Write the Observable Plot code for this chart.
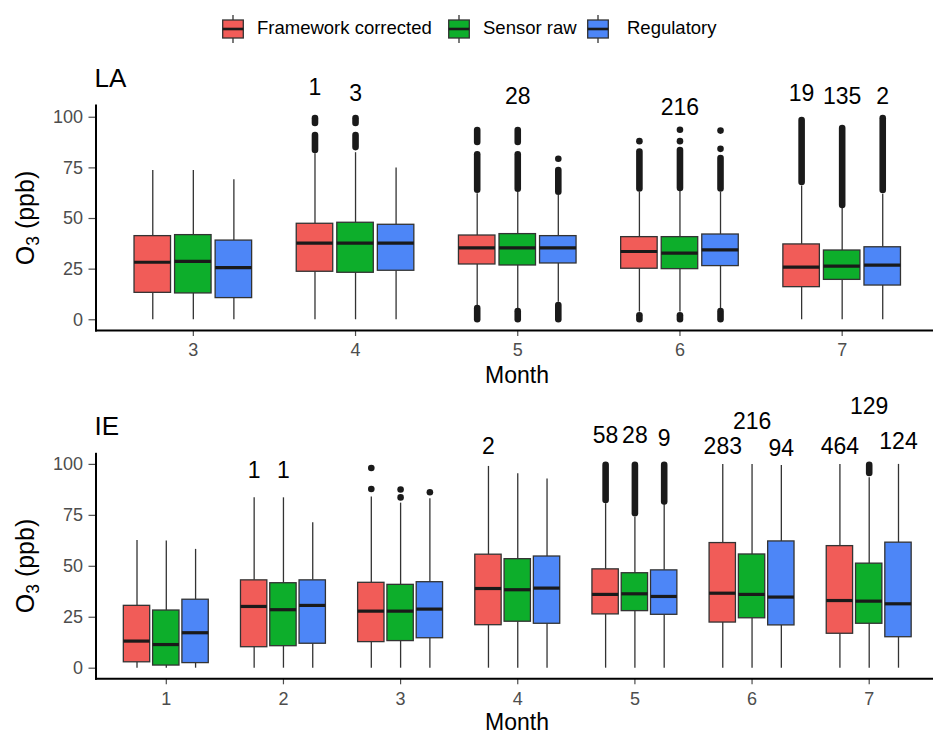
<!DOCTYPE html>
<html><head><meta charset="utf-8">
<script src="https://cdn.jsdelivr.net/npm/d3@7"></script>
<script src="https://cdn.jsdelivr.net/npm/@observablehq/plot@0.6"></script>
<style>
html,body{margin:0;padding:0;overflow:hidden;background:#fff;width:933px;height:733px;}
body{position:relative;font-family:"Liberation Sans",Arial,Helvetica,sans-serif;color:#000;}
.abs{position:absolute;white-space:nowrap;line-height:1;}
.svgwrap{position:absolute;left:0;}
</style></head><body>
<script>
// ---------- data ----------
const seriesNames = ["Framework corrected", "Sensor raw", "Regulatory"];
const seriesColors = ["#F15C58", "#0DAE2B", "#4D86F7"];

// LA: one entry per box (month-major, series in seriesNames order)
const laMonths = [3, 4, 5, 6, 7];
const laMonth  = [3,3,3, 4,4,4, 5,5,5, 6,6,6, 7,7,7];
const laLow    = [0,0,0, 0,0,0, 7.1,5.6,8.7, 3.8,3.8,5.4, 0,0,0];
const laQ1     = [13.3,13.0,10.7, 23.7,23.2,24.2, 27.3,26.8,27.8, 25.2,25.0,26.5, 16.1,19.7,16.9];
const laMedian = [28.4,28.8,25.7, 37.8,37.8,37.8, 35.5,35.5,35.5, 33.7,32.9,34.5, 26.0,26.5,27.0];
const laQ3     = [41.3,41.8,39.1, 47.4,47.9,46.9, 41.6,42.3,41.3, 40.8,40.8,42.1, 37.2,34.2,35.8];
const laHigh   = [73.7,73.7,69.1, 82,82.5,75.0, 62.2,63,61.4, 63,63.5,63, 66,55,62];
// LA dense outlier runs
const laRunMonth  = [4,4,4,4, 5,5,5,5,5, 5,5,5, 6,6,6, 6,6,6, 7,7,7];
const laRunSeries = [0,0,1,1, 0,0,1,1,2, 0,1,2, 0,1,2, 0,1,2, 0,1,2];
const laRunLo     = [83.6,96.9,85,96.9, 64,87.5,64.5,87.5,63, 0,0,0, 64.6,64.8,64.6, 0,0,0, 67.8,56.4,63.8];
const laRunHi     = [91,99.3,91,99.3, 81.5,93.4,81.5,93.4,73.7, 5.5,4,7, 82.8,83.6,79.6, 2,2,4, 98.4,94.4,99.3];
// LA single outliers
const laDotMonth  = [5, 6, 6, 6, 6, 6];
const laDotSeries = [2, 0, 1, 1, 2, 2];
const laDotValue  = [79.5, 88.2, 88.2, 93.8, 84.4, 93.4];
// LA count labels
const laLabMonth  = [4, 4, 5, 6, 7, 7, 7];
const laLabSeries = [0, 1, 1, 1, 0, 1, 2];
const laLabText   = ["1", "3", "28", "216", "19", "135", "2"];
const laLabY      = [114.5, 111.5, 110.2, 104.9, 111.8, 110.2, 110.2];

// IE
const ieMonths = [1, 2, 3, 4, 5, 6, 7];
const ieMonth  = [1,1,1, 2,2,2, 3,3,3, 4,4,4, 5,5,5, 6,6,6, 7,7,7];
const ieLow    = [0,0,0, 0,0,0, 0,0,0, 0,0,0, 0,0,0, 0,0,0, 0,0,0];
const ieQ1     = [2.9,1.3,2.5, 10.3,10.8,12.0, 12.8,13.3,14.7, 21.1,22.8,21.8, 26.4,28.0,26.2, 22.4,24.5,21.0, 16.9,21.8,15.2];
const ieMedian = [13.3,11.6,17.4, 30.3,28.7,30.8, 28.0,28.0,29.0, 39.1,38.5,39.3, 36.2,36.5,35.2, 36.8,36.2,34.9, 33.2,32.9,31.6];
const ieQ3     = [30.6,28.3,33.6, 43.1,41.7,43.1, 41.9,40.9,42.2, 55.7,53.5,54.8, 48.5,46.6,48.0, 61.4,55.8,62.2, 59.9,51.3,61.6];
const ieHigh   = [62.7,62.4,58.3, 83.6,83.6,71.4, 84.0,81.0,83.1, 99.0,95.4,92.8, 80.7,74.1,79.9, 100,100,99.5, 100,93.5,100];
const ieRunMonth  = [5, 5, 5, 7];
const ieRunSeries = [0, 1, 2, 1];
const ieRunLo     = [82.3, 75.8, 81.5, 95.5];
const ieRunHi     = [99.5, 99.5, 99.5, 99.5];
const ieDotMonth  = [3, 3, 3, 3, 3];
const ieDotSeries = [0, 0, 1, 1, 2];
const ieDotValue  = [98.2, 87.9, 87.7, 83.8, 86.3];
const ieLabMonth  = [2, 2, 4, 5, 5, 5, 6, 6, 6, 7, 7, 7];
const ieLabSeries = [0, 1, 0, 0, 1, 2, 0, 1, 2, 0, 1, 2];
const ieLabText   = ["1", "1", "2", "58", "28", "9", "283", "216", "94", "464", "129", "124"];
const ieLabY      = [97.1, 97.1, 108.5, 114.2, 114.2, 112.6, 108.8, 120.8, 107.7, 108.8, 128.5, 111];

const yTicks = [0, 25, 50, 75, 100];

// ---------- tables ----------
const key = (m, s) => m + "|" + s;
function boxes(month, low, q1, med, q3, high) {
  return month.map((m, i) => ({key: key(m, seriesNames[i % 3]), series: seriesNames[i % 3], low: low[i], q1: q1[i], med: med[i], q3: q3[i], high: high[i]}));
}
function runs(month, s, lo, hi) {
  return month.map((m, i) => ({key: key(m, seriesNames[s[i]]), lo: lo[i], hi: hi[i]}));
}
function dots(month, s, v) {
  return month.map((m, i) => ({key: key(m, seriesNames[s[i]]), value: v[i]}));
}
function labels(month, s, t, y) {
  return month.map((m, i) => ({key: key(m, seriesNames[s[i]]), text: t[i], y: y[i]}));
}
// band domain: month groups of three series, one empty slot between groups (dodged layout)
function groupedDomain(months) {
  const d = [];
  months.forEach((m, i) => {
    if (i > 0) d.push("gap" + i);
    seriesNames.forEach(s => d.push(key(m, s)));
  });
  return d;
}

function panel(o) {
  return Plot.plot({
    width: 939, height: o.height,
    marginLeft: 95.5, marginRight: 0, marginTop: o.marginTop, marginBottom: o.marginBottom,
    style: {background: "transparent", overflow: "visible", maxWidth: "none", fontFamily: "'Liberation Sans', Arial, sans-serif"},
    x: {type: "band", domain: groupedDomain(o.months), paddingInner: 0.1, paddingOuter: 0.95, round: false, axis: null},
    y: {domain: o.yDomain, axis: null},
    color: {domain: seriesNames, range: seriesColors},
    marks: [
      Plot.axisY({ticks: yTicks, tickSize: 7, tickPadding: 6, fontSize: 18, label: null, color: "#4d4d4d", strokeWidth: 1.2}),
      Plot.axisX({anchor: "bottom", ticks: o.months.map(m => key(m, seriesNames[1])), tickFormat: k => k.split("|")[0],
                  tickSize: 6, tickPadding: 7, fontSize: 18, label: null, color: "#4d4d4d", strokeWidth: 1.2}),
      Plot.frame({anchor: "left", stroke: "#000", strokeWidth: 2}),
      Plot.frame({anchor: "bottom", stroke: "#000", strokeWidth: 2}),
      Plot.ruleX(o.boxes, {x: "key", y1: "low", y2: "q1", stroke: "#333", strokeWidth: 1.3}),
      Plot.ruleX(o.boxes, {x: "key", y1: "q3", y2: "high", stroke: "#333", strokeWidth: 1.3}),
      Plot.ruleX(o.runs, {x: "key", y1: "lo", y2: "hi", stroke: "#1a1a1a", strokeWidth: 6.6, strokeLinecap: "round"}),
      Plot.barY(o.boxes, {x: "key", y1: "q1", y2: "q3", fill: "series", stroke: "#333", strokeWidth: 1.3}),
      Plot.tickY(o.boxes, {x: "key", y: "med", stroke: "#1a1a1a", strokeWidth: 3.2}),
      Plot.dot(o.dots, {x: "key", y: "value", r: 3.3, fill: "#1a1a1a", stroke: null}),
      Plot.text(o.labels, {x: "key", y: "y", text: "text", fontSize: 23, fill: "#000"})
    ]
  });
}

function place(el, top) {
  const w = document.createElement("div");
  w.className = "svgwrap";
  w.style.top = top + "px";
  w.appendChild(el);
  document.body.appendChild(w);
}
function addText(html, css) {
  const d = document.createElement("div");
  d.className = "abs";
  d.innerHTML = html;
  Object.assign(d.style, css);
  document.body.appendChild(d);
  return d;
}

// LA panel: plot area 105..330 px
place(panel({
  months: laMonths, height: 350, marginTop: 65, marginBottom: 60, yDomain: [-5.3, 105.8],
  boxes: boxes(laMonth, laLow, laQ1, laMedian, laQ3, laHigh),
  runs: runs(laRunMonth, laRunSeries, laRunLo, laRunHi),
  dots: dots(laDotMonth, laDotSeries, laDotValue),
  labels: labels(laLabMonth, laLabSeries, laLabText, laLabY)
}), 40);

// IE panel: plot area 453.3..678.3 px
place(panel({
  months: ieMonths, height: 343.3, marginTop: 63.3, marginBottom: 55, yDomain: [-5.2, 105.2],
  boxes: boxes(ieMonth, ieLow, ieQ1, ieMedian, ieQ3, ieHigh),
  runs: runs(ieRunMonth, ieRunSeries, ieRunLo, ieRunHi),
  dots: dots(ieDotMonth, ieDotSeries, ieDotValue),
  labels: labels(ieLabMonth, ieLabSeries, ieLabText, ieLabY)
}), 390);

// titles and axis titles
addText("LA", {left: "94.5px", top: "64.7px", fontSize: "26px"});
addText("IE", {left: "94.5px", top: "413px", fontSize: "26px"});
addText("Month", {left: "517px", top: "363.8px", fontSize: "23px", transform: "translateX(-50%)"});
addText("Month", {left: "517px", top: "710.5px", fontSize: "23px", transform: "translateX(-50%)"});
const yLab = 'O<span style="font-size:0.7em;vertical-align:-0.3em">3</span> (ppb)';
addText(yLab, {left: "28px", top: "217.5px", fontSize: "25px", transform: "translate(-50%,-50%) rotate(-90deg)"});
addText(yLab, {left: "28px", top: "566px", fontSize: "25px", transform: "translate(-50%,-50%) rotate(-90deg)"});

// legend
const keyLeft = [221.7, 448.3, 586.7];
const textLeft = [257, 483, 627];
seriesNames.forEach((name, i) => {
  const k = document.createElement("div");
  k.className = "abs";
  k.style.left = keyLeft[i] + "px";
  k.style.top = "15px";
  k.innerHTML = `<svg width="22" height="28" style="display:block">
    <line x1="11" x2="11" y1="0" y2="28" stroke="#333" stroke-width="1.3"/>
    <rect x="0.7" y="5" width="20.6" height="18" fill="${seriesColors[i]}" stroke="#333" stroke-width="1.3"/>
    <line x1="0.7" x2="21.3" y1="14" y2="14" stroke="#1a1a1a" stroke-width="2.6"/>
  </svg>`;
  document.body.appendChild(k);
  addText(name, {left: textLeft[i] + "px", top: "19.4px", fontSize: "18.5px"});
});
</script>
</body></html>
